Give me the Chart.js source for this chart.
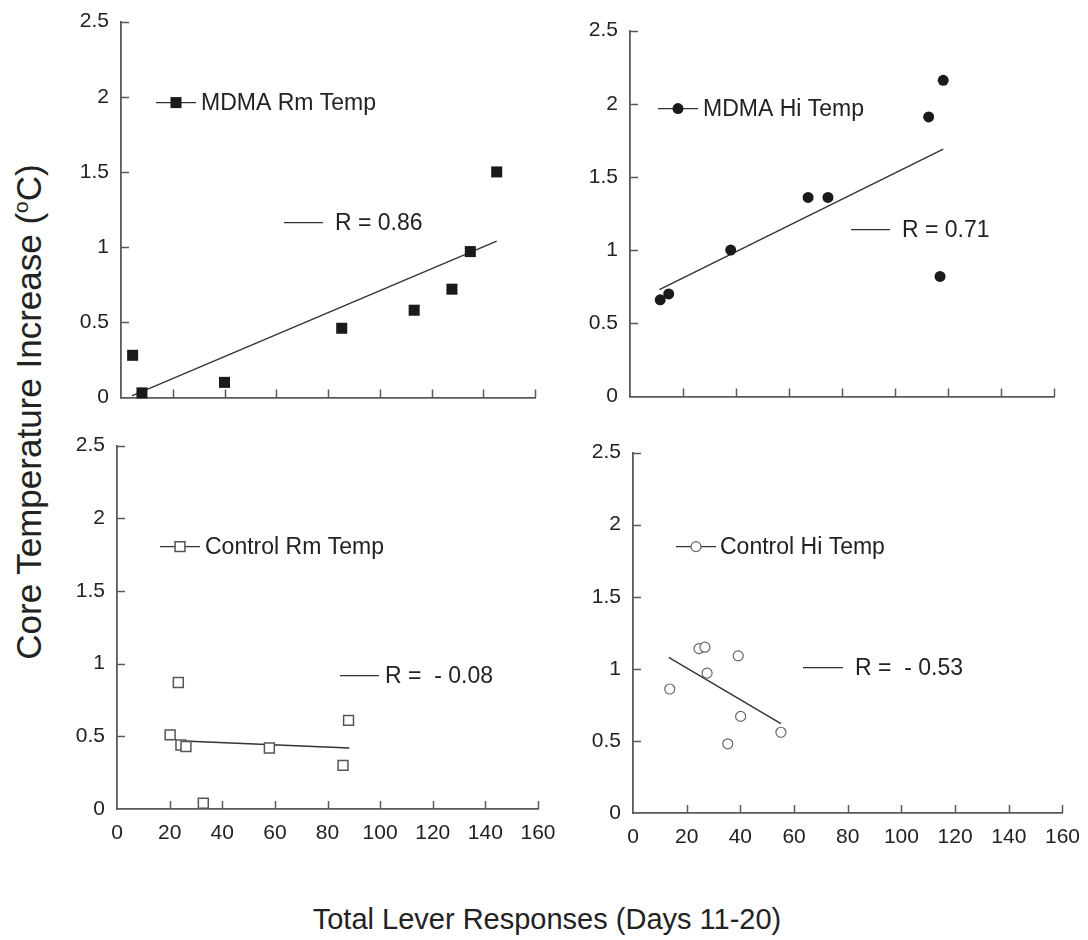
<!DOCTYPE html>
<html>
<head>
<meta charset="utf-8">
<script src="https://cdn.jsdelivr.net/npm/chart.js@4.4.1/dist/chart.umd.min.js"></script>
<style>
  body {
    margin: 0;
    width: 1088px;
    height: 940px;
    position: relative;
    overflow: hidden;
    background: #fff;
    font-family: "Liberation Sans", Arial, sans-serif;
    color: #222;
  }
  .panel { position: absolute; }
  .panel canvas { display: block; }
  .ytitle {
    position: absolute;
    left: 28px;
    top: 412px;
    transform: translate(-50%, -50%) rotate(-90deg);
    font-size: 35px;
    line-height: 1;
    white-space: nowrap;
  }
  .xtitle {
    position: absolute;
    left: 547px;
    top: 919px;
    transform: translate(-50%, -50%);
    font-size: 29px;
    line-height: 1;
    white-space: nowrap;
  }
  .ytitle sup { font-size: 0.6em; }
</style>
</head>
<body>
<div class="panel" id="p0"><canvas id="c0"></canvas></div>
<div class="panel" id="p1"><canvas id="c1"></canvas></div>
<div class="panel" id="p2"><canvas id="c2"></canvas></div>
<div class="panel" id="p3"><canvas id="c3"></canvas></div>
<div class="ytitle">Core Temperature Increase (<sup>o</sup>C)</div>
<div class="xtitle">Total Lever Responses (Days 11-20)</div>

<script>
// axis ticks
const xTicks = [0, 20, 40, 60, 80, 100, 120, 140, 160];
const yTicks = [0, 0.5, 1, 1.5, 2, 2.5];

// MDMA, room temperature
const mdmaRmX = [4.5, 8.1, 40.0, 85.3, 113.3, 127.9, 135.0, 145.2];
const mdmaRmY = [0.28, 0.03, 0.10, 0.46, 0.58, 0.72, 0.97, 1.50];
const mdmaRmFitX = [4.2, 145.2];
const mdmaRmFitY = [0.01, 1.04];

// MDMA, high temperature
const mdmaHiX = [11.4, 14.6, 38.0, 67.2, 74.7, 112.7, 118.2, 117.0];
const mdmaHiY = [0.66, 0.70, 1.00, 1.36, 1.36, 1.91, 2.16, 0.82];
const mdmaHiFitX = [11.1, 118.2];
const mdmaHiFitY = [0.73, 1.69];

// Control, room temperature
const ctrlRmX = [20.2, 23.3, 24.3, 26.2, 32.8, 57.9, 85.9, 88.0];
const ctrlRmY = [0.51, 0.87, 0.44, 0.43, 0.04, 0.42, 0.30, 0.61];
const ctrlRmFitX = [23.0, 88.3];
const ctrlRmFitY = [0.47, 0.42];

// Control, high temperature
const ctrlHiX = [13.7, 24.6, 26.8, 27.6, 39.2, 40.1, 35.3, 55.1];
const ctrlHiY = [0.86, 1.14, 1.15, 0.97, 1.09, 0.67, 0.48, 0.56];
const ctrlHiFitX = [13.3, 55.1];
const ctrlHiFitY = [1.08, 0.62];

const axisColor = "#5a5a5a";
const textColor = "#222";
const fontFamily = "'Liberation Sans', Arial, sans-serif";

const toPoints = (xs, ys) => xs.map((x, i) => ({ x, y: ys[i] }));

const markerStyles = {
    filledSquare: { pointStyle: "rect", radius: 7.8, fill: "#1a1a1a", stroke: "#1a1a1a", borderWidth: 0 },
    filledCircle: { pointStyle: "circle", radius: 5.5, fill: "#1a1a1a", stroke: "#1a1a1a", borderWidth: 0 },
    openSquare: { pointStyle: "rect", radius: 7, fill: "#fff", stroke: "#555", borderWidth: 1.5 },
    openCircle: { pointStyle: "circle", radius: 5, fill: "#fff", stroke: "#666", borderWidth: 1.2 },
};

// chart area of each panel in page pixels, legend offsets relative to chart area
const panels = [
    {
        area: { left: 121, top: 22, right: 535, bottom: 398 },
        xLabels: false,
        xs: mdmaRmX, ys: mdmaRmY, fitX: mdmaRmFitX, fitY: mdmaRmFitY,
        marker: markerStyles.filledSquare,
        label: "MDMA Rm Temp", labelPos: { x0: 35, x1: 75, tx: 80, y: 81 },
        rLabel: "R = 0.86", rPos: { x0: 163, x1: 202, tx: 214, y: 201 },
    },
    {
        area: { left: 630, top: 31, right: 1054, bottom: 397 },
        xLabels: false,
        xs: mdmaHiX, ys: mdmaHiY, fitX: mdmaHiFitX, fitY: mdmaHiFitY,
        marker: markerStyles.filledCircle,
        label: "MDMA Hi Temp", labelPos: { x0: 28, x1: 68, tx: 73, y: 78 },
        rLabel: "R = 0.71", rPos: { x0: 221, x1: 260, tx: 272, y: 199 },
    },
    {
        area: { left: 117, top: 446, right: 538, bottom: 809 },
        xLabels: true,
        xs: ctrlRmX, ys: ctrlRmY, fitX: ctrlRmFitX, fitY: ctrlRmFitY,
        marker: markerStyles.openSquare,
        label: "Control Rm Temp", labelPos: { x0: 43, x1: 83, tx: 88, y: 101 },
        rLabel: "R =  - 0.08", rPos: { x0: 223, x1: 262, tx: 268, y: 230 },
    },
    {
        area: { left: 633, top: 453, right: 1062, bottom: 813 },
        xLabels: true,
        xs: ctrlHiX, ys: ctrlHiY, fitX: ctrlHiFitX, fitY: ctrlHiFitY,
        marker: markerStyles.openCircle,
        label: "Control Hi Temp", labelPos: { x0: 43, x1: 83, tx: 87, y: 94 },
        rLabel: "R =  - 0.53", rPos: { x0: 170, x1: 210, tx: 222, y: 215 },
    },
];

function drawMarker(ctx, m, x, y) {
    ctx.save();
    ctx.fillStyle = m.fill;
    ctx.strokeStyle = m.stroke;
    ctx.lineWidth = m.borderWidth;
    ctx.beginPath();
    if (m.pointStyle === "rect") {
        const h = m.radius * Math.SQRT1_2;
        ctx.rect(x - h, y - h, 2 * h, 2 * h);
    } else {
        ctx.arc(x, y, m.radius, 0, Math.PI * 2);
    }
    ctx.fill();
    if (m.borderWidth > 0) {
        ctx.stroke();
    }
    ctx.restore();
}

// ticks pointing into the plot, plus the two in-plot legend entries
const panelDecor = {
    id: "panelDecor",
    afterDraw(chart, _args, opts) {
        const { ctx, chartArea, scales } = chart;
        const tickLen = 8;
        ctx.save();
        ctx.strokeStyle = axisColor;
        ctx.lineWidth = 1.5;
        ctx.beginPath();
        xTicks.forEach((v) => {
            if (v === 0) return;
            const px = Math.round(scales.x.getPixelForValue(v)) + 0.5;
            ctx.moveTo(px, chartArea.bottom);
            ctx.lineTo(px, chartArea.bottom - tickLen);
        });
        yTicks.forEach((v) => {
            if (v === 0) return;
            const py = Math.round(scales.y.getPixelForValue(v)) + 0.5;
            ctx.moveTo(chartArea.left, py);
            ctx.lineTo(chartArea.left + tickLen, py);
        });
        ctx.stroke();

        const p = opts.panel;
        const L = chartArea.left;
        const T = chartArea.top;
        ctx.strokeStyle = "#333";
        ctx.lineWidth = 1.3;
        ctx.beginPath();
        ctx.moveTo(L + p.labelPos.x0, T + p.labelPos.y);
        ctx.lineTo(L + p.labelPos.x1, T + p.labelPos.y);
        ctx.moveTo(L + p.rPos.x0, T + p.rPos.y);
        ctx.lineTo(L + p.rPos.x1, T + p.rPos.y);
        ctx.stroke();
        drawMarker(ctx, p.marker, L + (p.labelPos.x0 + p.labelPos.x1) / 2, T + p.labelPos.y);

        ctx.fillStyle = textColor;
        ctx.font = "23px " + fontFamily;
        ctx.textBaseline = "middle";
        ctx.textAlign = "left";
        ctx.fillText(p.label, L + p.labelPos.tx, T + p.labelPos.y + 1);
        ctx.fillText(p.rLabel, L + p.rPos.tx, T + p.rPos.y + 1);
        ctx.restore();
    },
};

panels.forEach((p, i) => {
    const yw = 60;
    const padTop = 16;
    const padR = Math.min(30, 1088 - p.area.right);
    const xh = p.xLabels ? 45 : 15;
    let width = p.area.right + padR - (p.area.left - yw);
    let height = p.area.bottom + xh - (p.area.top - padTop);

    const holder = document.getElementById("p" + i);
    const canvas = document.getElementById("c" + i);
    canvas.width = width;
    canvas.height = height;

    const chart = new Chart(canvas.getContext("2d"), {
        type: "scatter",
        data: {
            datasets: [
                {
                    label: p.label,
                    data: toPoints(p.xs, p.ys),
                    pointStyle: p.marker.pointStyle,
                    pointRadius: p.marker.radius,
                    pointBackgroundColor: p.marker.fill,
                    pointBorderColor: p.marker.stroke,
                    pointBorderWidth: p.marker.borderWidth,
                    clip: false,
                },
                {
                    type: "line",
                    label: p.rLabel,
                    data: toPoints(p.fitX, p.fitY),
                    borderColor: "#333",
                    borderWidth: 1.4,
                    pointRadius: 0,
                    fill: false,
                    tension: 0,
                },
            ],
        },
        plugins: [panelDecor],
        options: {
            responsive: false,
            maintainAspectRatio: false,
            animation: false,
            devicePixelRatio: 1,
            layout: { padding: { top: padTop, right: padR, left: 0, bottom: 0 } },
            plugins: {
                legend: { display: false },
                tooltip: { enabled: false },
                panelDecor: { panel: p },
            },
            scales: {
                x: {
                    type: "linear",
                    min: 0,
                    max: 160,
                    afterBuildTicks: (s) => { s.ticks = xTicks.map((v) => ({ value: v })); },
                    afterFit: (s) => { s.height = xh; },
                    grid: { display: false, drawTicks: false },
                    border: { display: true, color: axisColor, width: 1.8 },
                    ticks: {
                        display: p.xLabels,
                        padding: 12,
                        color: textColor,
                        maxRotation: 0,
                        autoSkip: false,
                        font: { family: fontFamily, size: 21 },
                    },
                },
                y: {
                    type: "linear",
                    min: 0,
                    max: 2.5,
                    afterBuildTicks: (s) => { s.ticks = yTicks.map((v) => ({ value: v })); },
                    afterFit: (s) => { s.width = yw; },
                    grid: { display: false, drawTicks: false },
                    border: { display: true, color: axisColor, width: 1.8 },
                    ticks: {
                        padding: 12,
                        color: textColor,
                        callback: (v) => String(v),
                        font: { family: fontFamily, size: 21 },
                    },
                },
            },
        },
    });

    // grow the canvas until the plot area has the wanted size, then place it
    for (let k = 0; k < 3; k++) {
        const ca = chart.chartArea;
        const dw = Math.round((p.area.right - p.area.left) - (ca.right - ca.left));
        const dh = Math.round((p.area.bottom - p.area.top) - (ca.bottom - ca.top));
        if (!dw && !dh) break;
        width += dw;
        height += dh;
        chart.resize(width, height);
    }
    const ca = chart.chartArea;
    holder.style.left = Math.round(p.area.left - ca.left) + "px";
    holder.style.top = Math.round(p.area.top - ca.top) + "px";
});
</script>
</body>
</html>
